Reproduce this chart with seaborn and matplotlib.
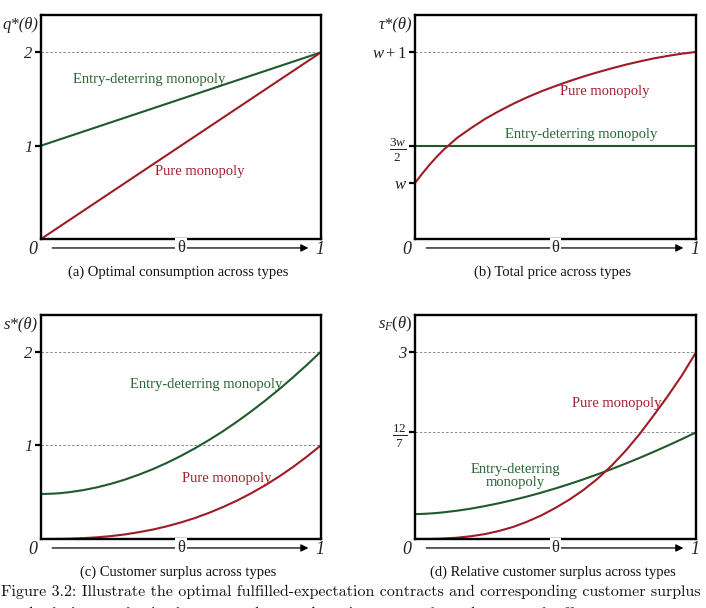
import matplotlib
matplotlib.use("Agg")
import matplotlib.pyplot as plt
import pandas as pd
import seaborn as sns

# ---------------- data ----------------
theta_lin = [0.0, 1.0]
q_pure = [0.0, 2.0]
q_entry = [1.0, 2.0]

theta = [0.00, 0.025, 0.05, 0.075, 0.10, 0.15, 0.20, 0.25, 0.30, 0.35, 0.40, 0.45, 0.50,
         0.55, 0.60, 0.65, 0.70, 0.75, 0.80, 0.85, 0.90, 0.95, 1.00]

tau_pure = [0.560, 0.630, 0.695, 0.755, 0.810, 0.905, 0.980, 1.050, 1.110, 1.165, 1.215, 1.260, 1.300,
            1.338, 1.373, 1.405, 1.435, 1.463, 1.488, 1.511, 1.530, 1.547, 1.560]
tau_entry = [0.84, 0.84]

s_pure = [0.000, 0.000, 0.001, 0.002, 0.003, 0.009, 0.018, 0.031, 0.049, 0.073, 0.101, 0.136, 0.177,
          0.224, 0.279, 0.341, 0.410, 0.487, 0.572, 0.666, 0.768, 0.880, 1.000]
s_entry = [0.480, 0.482, 0.485, 0.491, 0.499, 0.521, 0.551, 0.589, 0.634, 0.687, 0.746, 0.813, 0.887,
           0.968, 1.056, 1.150, 1.252, 1.360, 1.475, 1.596, 1.725, 1.859, 2.000]

sF_pure = [0.000, 0.000, 0.001, 0.003, 0.007, 0.021, 0.045, 0.080, 0.130, 0.195, 0.280, 0.380, 0.500,
           0.635, 0.790, 0.970, 1.180, 1.420, 1.690, 1.990, 2.300, 2.630, 3.000]
sF_entry = [0.400, 0.403, 0.409, 0.417, 0.428, 0.455, 0.489, 0.530, 0.576, 0.628, 0.684, 0.746, 0.813,
            0.884, 0.960, 1.040, 1.124, 1.213, 1.305, 1.402, 1.502, 1.606, 1.714]

ticks_a = [1, 2]
ticklabels_a = ["1", "2"]
ticks_b = [0.56, 0.84, 1.56]
ticklabels_b = [r"$w$", r"$\frac{3w}{2}$", r"$w+1$"]
ticks_c = [1, 2]
ticklabels_c = ["1", "2"]
ticks_d = [12 / 7, 3]
ticklabels_d = [r"$\frac{12}{7}$", "3"]

captions = ["(a) Optimal consumption across types",
            "(b) Total price across types",
            "(c) Customer surplus across types",
            "(d) Relative customer surplus across types"]

# ---------------- styling ----------------
sns.set_theme(style="white")
plt.rcParams["font.family"] = ["Liberation Serif", "DejaVu Serif"]
plt.rcParams["mathtext.fontset"] = "custom"
plt.rcParams["mathtext.rm"] = "Liberation Serif"
plt.rcParams["mathtext.it"] = "Liberation Serif:italic"
plt.rcParams["mathtext.bf"] = "Liberation Serif:bold"

GREEN = "#1f5a2c"
RED = "#9e1b27"
GREEN_T = "#2a6535"
RED_T = "#a3202f"

W, H = 706, 608
fig = plt.figure(figsize=(W / 100, H / 100), dpi=100)

def px_axes(left, top, right, bottom):
    return fig.add_axes([left / W, 1 - bottom / H, (right - left) / W, (bottom - top) / H])

ax_a = px_axes(41, 15, 321, 239)
ax_b = px_axes(415, 15, 696, 239)
ax_c = px_axes(41, 315, 321, 539)
ax_d = px_axes(415, 315, 696, 539)


def style(ax, ylim, ticks, labels, kinds, ylab, dashed, caption):
    ax.set_xlim(0, 1)
    ax.set_ylim(*ylim)
    ax.set_xticks([])
    ax.set_yticks(ticks)
    ax.set_yticklabels(labels)
    for lab, kind in zip(ax.get_yticklabels(), kinds):
        if kind == "num":
            lab.set_fontstyle("italic")
            lab.set_fontsize(12)
        elif kind == "frac":
            lab.set_fontsize(13.5)
        else:
            lab.set_fontsize(12)
    ax.set_xlabel("")
    ax.set_ylabel("")
    for sp in ax.spines.values():
        sp.set_visible(True)
        sp.set_color("black")
        sp.set_linewidth(1.7)
    ax.tick_params(axis="y", direction="out", length=4, width=1.6, pad=2,
                   left=True, color="black", labelcolor="#222222")
    for yv in dashed:
        ax.axhline(yv, color="#8a8a8a", lw=0.7, ls=(0, (2.5, 2)), zorder=0)
    ax.annotate(ylab, xy=(0, 1), xycoords="axes fraction", xytext=(-2, -7),
                textcoords="offset points", ha="right", va="center",
                fontsize=12, fontstyle="italic", color="#222222")
    # theta arrow beneath the axis
    ax.annotate("", xy=(0.955, -0.04), xytext=(0.04, -0.04), xycoords="axes fraction",
                arrowprops=dict(arrowstyle="-|>", lw=0.9, color="black",
                                mutation_scale=11, shrinkA=0, shrinkB=0),
                annotation_clip=False)
    ax.text(0.5, -0.04, "θ", transform=ax.transAxes, ha="center", va="center",
            fontsize=12, color="#222222",
            bbox=dict(fc="white", ec="none", pad=1.5))
    ax.text(-0.03, -0.045, "0", transform=ax.transAxes, ha="center", va="center",
            fontsize=13, fontstyle="italic", color="#222222")
    ax.text(0.997, -0.045, "1", transform=ax.transAxes, ha="center", va="center",
            fontsize=13, fontstyle="italic", color="#222222")
    ax.text(0.49, -0.147, caption, transform=ax.transAxes, ha="center", va="center",
            fontsize=10.5, color="#111111")


# (a)
df_a = pd.DataFrame({"theta": theta_lin, "pure": q_pure, "entry": q_entry})
sns.lineplot(data=df_a, x="theta", y="entry", ax=ax_a, color=GREEN, lw=1.5)
sns.lineplot(data=df_a, x="theta", y="pure", ax=ax_a, color=RED, lw=1.5)
style(ax_a, (0, 2.4), ticks_a, ticklabels_a, ["num", "num"], "q*(θ)", [2], captions[0])
ax_a.text(0.114, 1.71, "Entry-deterring monopoly", color=GREEN_T, fontsize=10.5, va="center")
ax_a.text(0.407, 0.72, "Pure monopoly", color=RED_T, fontsize=10.5, va="center")

# (b)
df_b = pd.DataFrame({"theta": theta, "pure": tau_pure})
df_b2 = pd.DataFrame({"theta": theta_lin, "entry": tau_entry})
sns.lineplot(data=df_b2, x="theta", y="entry", ax=ax_b, color=GREEN, lw=1.5)
sns.lineplot(data=df_b, x="theta", y="pure", ax=ax_b, color=RED, lw=1.5)
style(ax_b, (0.133, 1.842), ticks_b, ticklabels_b, ["sym", "frac", "sym"], "τ*(θ)",
      [1.56], captions[1])
ax_b.text(0.516, 1.26, "Pure monopoly", color=RED_T, fontsize=10.5, va="center")
ax_b.text(0.32, 0.93, "Entry-deterring monopoly", color=GREEN_T, fontsize=10.5, va="center")

# (c)
df_c = pd.DataFrame({"theta": theta, "pure": s_pure, "entry": s_entry})
sns.lineplot(data=df_c, x="theta", y="entry", ax=ax_c, color=GREEN, lw=1.5)
sns.lineplot(data=df_c, x="theta", y="pure", ax=ax_c, color=RED, lw=1.5)
style(ax_c, (0, 2.39), ticks_c, ticklabels_c, ["num", "num"], "s*(θ)", [1, 2], captions[2])
ax_c.text(0.318, 1.65, "Entry-deterring monopoly", color=GREEN_T, fontsize=10.5, va="center")
ax_c.text(0.503, 0.65, "Pure monopoly", color=RED_T, fontsize=10.5, va="center")

# (d)
df_d = pd.DataFrame({"theta": theta, "pure": sF_pure, "entry": sF_entry})
sns.lineplot(data=df_d, x="theta", y="entry", ax=ax_d, color=GREEN, lw=1.5)
sns.lineplot(data=df_d, x="theta", y="pure", ax=ax_d, color=RED, lw=1.5)
style(ax_d, (0, 3.6), ticks_d, ticklabels_d, ["frac", "num"], r"$s_F(\theta)$",
      [12 / 7, 3], captions[3])
ax_d.text(0.559, 2.18, "Pure monopoly", color=RED_T, fontsize=10.5, va="center")
ax_d.text(0.356, 1.01, "Entry-deterring\nmonopoly", color=GREEN_T, fontsize=10.5,
          va="center", ha="center", linespacing=1.05)

# figure caption (second line cut by the bottom edge, as in the reference)
fig.text(0.002, 1 - 592 / H,
         "Figure 3.2: Illustrate the optimal fulfilled-expectation contracts and corresponding customer surplus",
         family=["cmr10", "DejaVu Serif"], fontsize=11.5, ha="left", va="center", color="#111111")
fig.text(0.012, 1 - 614 / H,
         "and relative surplus in the pure and entry-deterring monopoly under network effects",
         family=["cmr10", "DejaVu Serif"], fontsize=11.5, ha="left", va="center", color="#111111")

fig.savefig("out.png", dpi=100)
